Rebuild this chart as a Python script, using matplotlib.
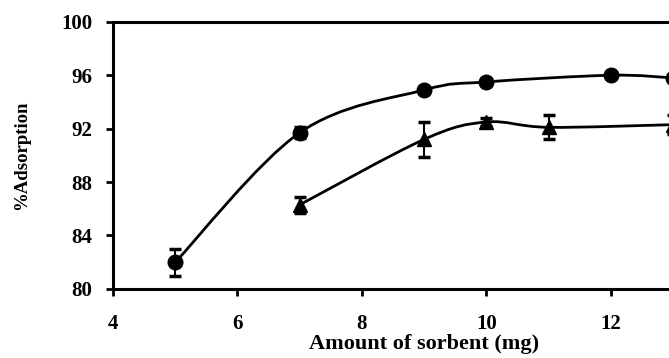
import numpy as np
import matplotlib.pyplot as plt
from matplotlib.path import Path
from matplotlib.patches import PathPatch

plt.rcParams['font.family'] = ['Liberation Serif', 'DejaVu Serif']
plt.rcParams['font.weight'] = 'bold'

# sorbent amount (mg) vs % adsorption
dose_circ = [5, 7, 9, 10, 12, 13]
ads_circ = [82.0, 91.7, 94.9, 95.5, 96.0, 95.8]
err_circ = [1.0, 0.4, 0.2, 0.2, 0.2, 0.2]

dose_tri = [7, 9, 10, 11, 13]
ads_tri = [86.3, 91.2, 92.5, 92.1, 92.3]
err_tri = [0.6, 1.3, 0.3, 0.9, 0.7]


def smooth_path(xs, ys):
    # Catmull-Rom style bezier through the points (like a spreadsheet "smoothed line")
    pts = np.column_stack([xs, ys]).astype(float)
    ext = np.vstack([pts[0], pts, pts[-1]])
    verts = [pts[0]]
    codes = [Path.MOVETO]
    for i in range(1, len(ext) - 2):
        p0, p1, p2, p3 = ext[i - 1], ext[i], ext[i + 1], ext[i + 2]
        verts += [p1 + (p2 - p0) / 6, p2 - (p3 - p1) / 6, p2]
        codes += [Path.CURVE4] * 3
    return Path(verts, codes)


fig = plt.figure(figsize=(6.69, 3.58), dpi=100)
ax = fig.add_axes([0.169, 0.193, 0.93, 0.746])

for xs, ys in [(dose_circ, ads_circ), (dose_tri, ads_tri)]:
    ax.add_patch(PathPatch(smooth_path(xs, ys), fc='none', ec='black', lw=2.0))

ax.errorbar(dose_circ, ads_circ, yerr=err_circ, fmt='o', color='black',
            ms=10.5, capsize=4, capthick=2.5, elinewidth=1.5)
ax.errorbar(dose_tri, ads_tri, yerr=err_tri, fmt='^', color='black',
            ms=10.5, capsize=4, capthick=2.5, elinewidth=1.5)

ax.set_xlim(4, 14)
ax.set_ylim(80, 100)
ax.set_xticks([4, 6, 8, 10, 12])
ax.set_yticks([80, 84, 88, 92, 96, 100])
ax.tick_params(direction='out', length=5, width=2, labelsize=15)
ax.tick_params(axis='x', pad=13)
ax.tick_params(axis='y', pad=10)
for s in ax.spines.values():
    s.set_linewidth(2.2)
ax.spines['right'].set_visible(False)

ax.set_xlabel('Amount of sorbent (mg)', fontsize=16, fontweight='bold', labelpad=0)
ax.set_ylabel('%Adsorption', fontsize=13.5, fontweight='bold', labelpad=22)

fig.savefig('out.png', dpi=100)
